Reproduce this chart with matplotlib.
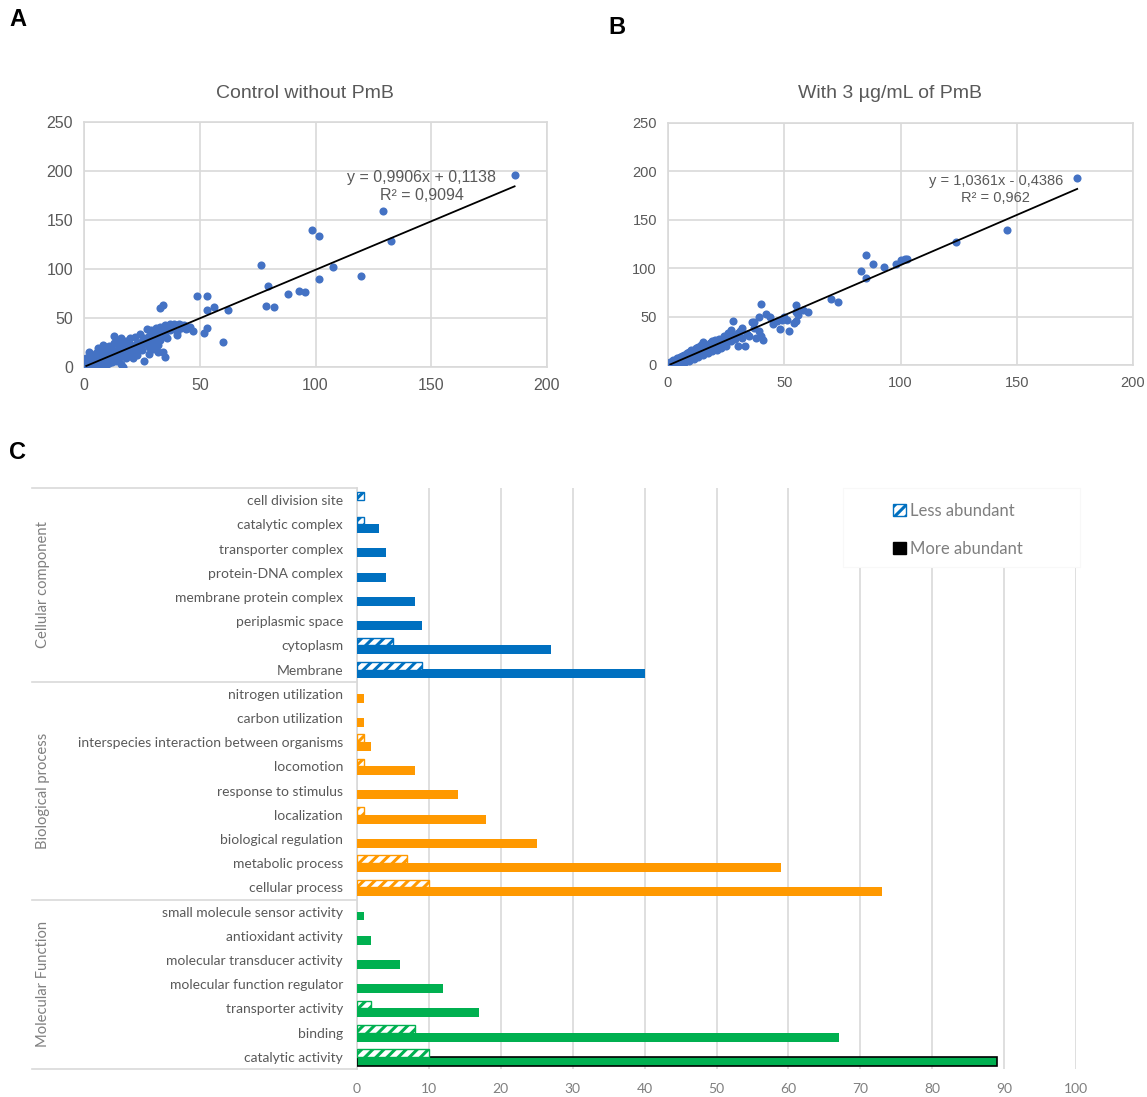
import matplotlib
matplotlib.use("Agg")
import matplotlib.pyplot as plt
import numpy as np
from matplotlib.patches import Patch, Rectangle

# ---- panel A data (control without PmB) ----
a_x = [186, 129, 98.5, 101.5, 132.5, 76.5, 107.5, 101.5, 119.5, 79.5, 88, 93, 95.5, 78.5, 82,
       49, 53, 53, 56, 62, 60, 52, 53, 47, 45, 33, 34, 13, 35, 34, 40, 37, 42, 44,
       0, 0.5, 1, 1, 2, 2, 3, 3, 4, 4, 5, 5, 6, 6, 7, 7, 8, 8, 9, 9, 10, 10, 11, 11, 12, 12,
       13, 14, 14, 15, 15, 16, 16, 17, 17, 18, 18, 19, 20, 20, 21, 22, 22, 23, 24, 24, 25, 25,
       26, 27, 27, 28, 28, 29, 29, 30, 30, 31, 31, 32, 32, 33, 33, 34, 35, 35, 36, 36, 37, 38,
       39, 40, 41, 42, 43, 44, 46, 3, 2, 5, 6, 8, 10, 12, 14, 17, 18, 20, 21, 23, 25, 26, 28,
       30, 32, 7, 9, 4, 1, 11, 13, 15, 16]
a_y = [196, 159, 140, 134, 129, 104, 102, 90, 93, 83, 74, 78, 77, 62, 61,
       72, 72, 58, 61, 58, 26, 35, 40, 37, 40, 60, 63, 32, 10, 15, 33, 44, 43, 41,
       0, 2, 5, 1, 3, 8, 1, 6, 4, 10, 2, 7, 12, 5, 3, 9, 14, 6, 2, 11, 8, 16, 4, 13, 10, 18,
       7, 15, 11, 20, 9, 13, 3, 22, 16, 12, 27, 18, 23, 14, 20, 31, 17, 25, 19, 34, 27, 22,
       30, 39, 24, 32, 20, 38, 28, 26, 35, 40, 30, 22, 34, 28, 41, 38, 33, 43, 30, 40, 38, 42,
       44, 36, 44, 40, 43, 39, 41, 12, 15, 14, 19, 22, 3, 5, 6, 0, 9, 30, 9, 12, 17, 6, 13,
       18, 15, 17, 20, 1, 9, 21, 25, 27, 30]
a_slope, a_icpt, a_xmax = 0.9906, 0.1138, 186

# ---- panel B data (3 ug/mL PmB) ----
b_x = [176, 146, 124, 85, 83, 88, 93, 85, 98, 100, 102, 103, 70, 73,
       0, 1, 1, 2, 2, 3, 3, 4, 4, 5, 5, 6, 6, 7, 7, 8, 8, 9, 9, 10, 10, 11, 11, 12, 12, 13, 13,
       14, 14, 15, 15, 16, 16, 17, 18, 18, 19, 19, 20, 20, 21, 22, 22, 23, 24, 24, 25, 26, 26,
       27, 27, 28, 28, 29, 30, 30, 31, 32, 32, 33, 34, 35, 36, 37, 38, 39, 40, 41, 37, 39, 40,
       42, 44, 45, 47, 48, 49, 50, 51, 52, 54, 55, 55, 55, 56, 58, 60, 3, 5, 7, 9, 11, 13, 15,
       17, 19, 21, 23, 25, 6, 4, 2]
b_y = [193, 139, 127, 114, 97, 104, 101, 90, 104, 108, 109, 110, 68, 65,
       0, 1, 3, 2, 5, 1, 4, 3, 7, 4, 8, 5, 9, 6, 10, 7, 12, 8, 13, 9, 15, 10, 16, 11, 18, 12, 19,
       13, 21, 14, 24, 15, 20, 16, 17, 23, 18, 25, 19, 26, 20, 24, 27, 21, 26, 30, 23, 28, 33,
       25, 36, 45, 30, 27, 33, 20, 35, 38, 28, 20, 32, 30, 44, 38, 28, 35, 30, 26, 44, 50, 63,
       53, 50, 42, 45, 37, 47, 50, 46, 35, 43, 45, 55, 62, 52, 57, 55, 0, 1, 2, 4, 6, 8, 10,
       12, 14, 16, 18, 20, 0, 0, 0]
b_slope, b_icpt, b_xmax = 1.0361, -0.4386, 176

# ---- panel C data (GO categories, top to bottom) ----
categories = ["cell division site", "catalytic complex", "transporter complex", "protein-DNA complex",
              "membrane protein complex", "periplasmic space", "cytoplasm", "Membrane",
              "nitrogen utilization", "carbon utilization", "interspecies interaction between organisms",
              "locomotion", "response to stimulus", "localization", "biological regulation",
              "metabolic process", "cellular process",
              "small molecule sensor activity", "antioxidant activity", "molecular transducer activity",
              "molecular function regulator", "transporter activity", "binding", "catalytic activity"]
more_abundant = [0, 3, 4, 4, 8, 9, 27, 40,
                 1, 1, 2, 8, 14, 18, 25, 59, 73,
                 1, 2, 6, 12, 17, 67, 89]
less_abundant = [1, 1, 0, 0, 0, 0, 5, 9,
                 0, 0, 1, 1, 0, 1, 0, 7, 10,
                 0, 0, 0, 0, 2, 8, 10]
groups = ["Cellular component", "Biological process", "Molecular Function"]
group_sizes = [8, 9, 7]
group_colors = ["#0070C0", "#FF9900", "#00B050"]

W, H = 1147, 1097
fig = plt.figure(figsize=(W / 100, H / 100), dpi=100)
plt.rcParams['hatch.linewidth'] = 2.2

grid_c = "#d9d9d9"
tick_c = "#595959"


def scatter_panel(rect, xs, ys, slope, icpt, xmax, eq, r2, eq_xy, fs):
    ax = fig.add_axes(rect)
    ax.scatter(xs, ys, s=34, color="#4472C4", zorder=3, linewidths=0)
    lx = np.array([1, xmax])
    ax.plot(lx, slope * lx + icpt, color="black", lw=1.3, zorder=4)
    ax.set_xlim(0, 200)
    ax.set_ylim(0, 250)
    ax.set_xticks(range(0, 201, 50))
    ax.set_yticks(range(0, 251, 50))
    ax.grid(True, color=grid_c, lw=1.2)
    ax.set_axisbelow(True)
    for s in ax.spines.values():
        s.set_color(grid_c)
        s.set_linewidth(1.2)
    ax.tick_params(length=0, labelsize=fs, labelcolor=tick_c, pad=8)
    for lab in ax.get_xticklabels() + ax.get_yticklabels():
        lab.set_family("Liberation Sans")
    ax.text(eq_xy[0], eq_xy[1], eq + "\n" + r2, ha="center", va="center", fontsize=fs,
            color=tick_c, family="Liberation Sans", linespacing=1.25, zorder=5)
    return ax


scatter_panel([84 / W, 1 - 367 / H, 463 / W, 245 / H], a_x, a_y, a_slope, a_icpt, a_xmax,
              "y = 0,9906x + 0,1138", "R² = 0,9094", (146, 184), 11.5)
scatter_panel([668 / W, 1 - 365 / H, 465 / W, 242 / H], b_x, b_y, b_slope, b_icpt, b_xmax,
              "y = 1,0361x - 0,4386", "R² = 0,962", (141, 181), 10.5)

fig.text(305 / W, 1 - 93 / H, "Control without PmB", ha="center", va="center",
         fontsize=14, color=tick_c, family="Liberation Sans")
fig.text(890 / W, 1 - 93 / H, "With 3 µg/mL of PmB", ha="center", va="center",
         fontsize=14, color=tick_c, family="Liberation Sans")
for lbl, px, py in [("A", 18, 20), ("B", 617, 27), ("C", 18, 452)]:
    fig.text(px / W, 1 - py / H, lbl, ha="center", va="center", fontsize=17,
             fontweight="bold", family="Liberation Sans")

# ---- panel C ----
axc = fig.add_axes([357 / W, 28 / H, 719 / W, 581 / H])
ypos = np.arange(len(categories))
bar_colors = []
for c, n in zip(group_colors, group_sizes):
    bar_colors += [c] * n

for i in ypos:
    if more_abundant[i] > 0:
        edge = "black" if i == len(categories) - 1 else bar_colors[i]
        axc.barh(i + 0.18, more_abundant[i], height=0.37, color=bar_colors[i],
                 edgecolor=edge, lw=1.2 if edge == "black" else 0, zorder=3)
    if less_abundant[i] > 0:
        axc.barh(i - 0.16, less_abundant[i], height=0.32, color="white",
                 edgecolor=bar_colors[i], hatch="///", lw=1.0, zorder=3)

axc.set_xlim(0, 100)
axc.set_ylim(len(categories) - 0.5, -0.5)
axc.set_xticks(range(0, 101, 10))
axc.set_yticks(ypos)
axc.set_yticklabels(categories)
axc.grid(True, axis="x", color=grid_c, lw=1.2)
axc.set_axisbelow(True)
for s in ["top", "right", "bottom"]:
    axc.spines[s].set_visible(False)
axc.spines["left"].set_color(grid_c)
axc.spines["left"].set_linewidth(1.2)
axc.tick_params(length=0, labelcolor=tick_c, labelsize=10)
axc.tick_params(axis="y", pad=10)
axc.tick_params(axis="x", pad=10, labelcolor="#7f7f7f")
for lab in axc.get_xticklabels() + axc.get_yticklabels():
    lab.set_family("Lato")

# category table lines and group labels
trans = axc.get_yaxis_transform()
x_left = (32 - 357) / 719
bounds = [-0.5]
for n in group_sizes:
    bounds.append(bounds[-1] + n)
for b in bounds:
    axc.plot([x_left, 0], [b, b], transform=trans, color=grid_c, lw=1.2, clip_on=False)
for g, lo, hi in zip(groups, bounds[:-1], bounds[1:]):
    axc.text((43 - 357) / 719, (lo + hi) / 2, g, transform=trans, rotation=90,
             ha="center", va="center", fontsize=10.6, color="#7f7f7f", family="Lato")

# white legend background covering the gridlines
bx0 = (843 - 357) / 719
by0 = (1069 - 567) / 581
axc.add_patch(Rectangle((bx0, by0), (1080 - 843) / 719, 1 - by0, transform=axc.transAxes,
                        facecolor="white", edgecolor="#f8f8f8", lw=0.8, zorder=2, clip_on=False))

handles = [Patch(facecolor="white", edgecolor="#0070C0", hatch="///", lw=1.0),
           Patch(facecolor="black", edgecolor="black")]
leg = axc.legend(handles, ["Less abundant", "More abundant"], loc="upper left",
                 bbox_to_anchor=((878 - 357) / 719, 1.0), frameon=False,
                 prop={"family": "Lato", "size": 12}, labelspacing=1.3,
                 handlelength=0.75, handleheight=0.75, handletextpad=0.3,
                 borderpad=0.9, borderaxespad=0, labelcolor="#7f7f7f")
leg.set_zorder(5)

fig.savefig("out.png", dpi=100, facecolor="white")
